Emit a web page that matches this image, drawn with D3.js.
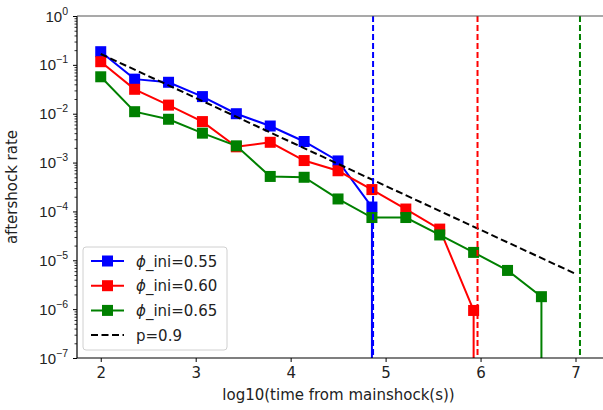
<!DOCTYPE html>
<html>
<head>
<meta charset="utf-8">
<script src="https://cdn.jsdelivr.net/npm/d3@7"></script>
<style>
  html, body { margin: 0; padding: 0; background: #fff; }
  svg { display: block; font-family: "DejaVu Sans", sans-serif; }
</style>
</head>
<body>
<svg id="chart" width="603" height="410"></svg>
<script>
// log10 of bin time (s) for each aftershock-rate sample
const logTime = [2.0, 2.357, 2.714, 3.071, 3.428, 3.785, 4.142, 4.499, 4.856, 5.213, 5.570, 5.927, 6.284, 6.641];

// Aftershock rates per run; a trailing 0 means the bin is empty
const rate055 = [0.186, 0.051, 0.044, 0.0224, 0.0100, 0.0056, 0.0027, 0.00108, 1.23e-4, 0];
const rate060 = [0.116, 0.0316, 0.015, 0.0069, 0.0021, 0.0026, 0.0011, 6.8e-4, 2.8e-4, 1.12e-4, 4.35e-5, 9.4e-7, 0];
const rate065 = [0.057, 0.011, 0.0077, 0.004, 0.0022, 5.2e-4, 5.0e-4, 1.8e-4, 7.5e-5, 7.5e-5, 3.3e-5, 1.45e-5, 6.2e-6, 1.8e-6, 0];

const seriesNames = ["\u03d5_ini=0.55", "\u03d5_ini=0.60", "\u03d5_ini=0.65"];
const seriesColors = ["#0000ff", "#ff0000", "#008000"];
const seriesRates = [rate055, rate060, rate065];

// End of each simulated catalogue (log10 s)
const catalogueEnd = [4.868, 5.968, 7.047];

// Omori reference line, p = 0.9
const omoriX = [2, 7];
const omoriY = [0.167, 5.28e-6];
const omoriName = "p=0.9";

const xTicks = [2, 3, 4, 5, 6, 7];
const yTickExp = [0, -1, -2, -3, -4, -5, -6, -7];

const svg = d3.select("#chart");
const pLeft = 77, pRight = 604, pTop = 16, pBottom = 358;

const x = d3.scaleLinear().domain([1.75, 7.3]).range([pLeft, pRight]);
const y = d3.scaleLog().domain([1e-7, 1]).range([pBottom, pTop]);

svg.append("defs").append("clipPath").attr("id", "plotClip")
  .append("rect").attr("x", pLeft).attr("y", pTop)
  .attr("width", pRight - pLeft).attr("height", pBottom - pTop);

const plot = svg.append("g").attr("clip-path", "url(#plotClip)");

// Series lines with square markers
seriesRates.forEach((rates, si) => {
  const pts = [];
  rates.forEach((r, i) => {
    if (r > 0) pts.push([x(logTime[i]), y(r)]);
    else if (pts.length) pts.push([pts[pts.length - 1][0], pBottom + 5]); // empty bin falls off the log axis
  });
  plot.append("path")
    .attr("d", d3.line()(pts))
    .attr("fill", "none")
    .attr("stroke", seriesColors[si])
    .attr("stroke-width", 2);
  plot.selectAll(null)
    .data(rates.map((r, i) => [logTime[i], r]).filter(d => d[1] > 0))
    .enter().append("rect")
    .attr("x", d => x(d[0]) - 5.5)
    .attr("y", d => y(d[1]) - 5.5)
    .attr("width", 11).attr("height", 11)
    .attr("fill", seriesColors[si]);
});

// Omori law reference
plot.append("path")
  .attr("d", d3.line()(omoriX.map((v, i) => [x(v), y(omoriY[i])])))
  .attr("fill", "none")
  .attr("stroke", "#000")
  .attr("stroke-width", 2)
  .attr("stroke-dasharray", "7,3.5");

// Catalogue end markers
catalogueEnd.forEach((v, i) => {
  plot.append("line")
    .attr("x1", x(v)).attr("x2", x(v))
    .attr("y1", pTop).attr("y2", pBottom)
    .attr("stroke", seriesColors[i])
    .attr("stroke-width", 2)
    .attr("stroke-dasharray", "6,3");
});

// Axes
const tickColor = "#222";
const xAxis = svg.append("g")
  .attr("transform", `translate(0,${pBottom})`)
  .call(d3.axisBottom(x).tickValues(xTicks).tickSize(4).tickPadding(5).tickFormat(d3.format("d")));
xAxis.select(".domain").remove();
xAxis.selectAll("text").attr("font-size", 15).attr("fill", tickColor).attr("font-family", "DejaVu Sans");
xAxis.selectAll("line").attr("stroke", "#000").attr("stroke-width", 1);

const majors = yTickExp.map(e => Math.pow(10, e));
const minors = [];
for (let e = -7; e < 0; e++) for (let k = 2; k <= 9; k++) minors.push(k * Math.pow(10, e));

const yMinor = svg.append("g").attr("transform", `translate(${pLeft},0)`)
  .call(d3.axisLeft(y).tickValues(minors).tickSize(2.5).tickFormat(""));
yMinor.select(".domain").remove();
yMinor.selectAll("line").attr("stroke", "#000").attr("stroke-width", 0.8);

const yAxis = svg.append("g").attr("transform", `translate(${pLeft},0)`)
  .call(d3.axisLeft(y).tickValues(majors).tickSize(4).tickPadding(6).tickFormat(""));
yAxis.select(".domain").remove();
yAxis.selectAll("line").attr("stroke", "#000").attr("stroke-width", 1);
yAxis.selectAll(".tick").each(function(d, i) {
  const t = d3.select(this).append("text")
    .attr("x", -9).attr("y", 5)
    .attr("text-anchor", "end")
    .attr("font-size", 15)
    .attr("fill", tickColor);
  t.append("tspan").text("10");
  t.append("tspan").attr("dy", -7).attr("font-size", 10.5)
    .text(yTickExp[i] === 0 ? "0" : "\u2212" + Math.abs(yTickExp[i]));
});

// Frame
svg.append("line").attr("x1", pLeft).attr("x2", pLeft).attr("y1", pTop).attr("y2", pBottom)
  .attr("stroke", "#000").attr("stroke-width", 1.2);
svg.append("line").attr("x1", pLeft).attr("x2", pRight).attr("y1", pBottom).attr("y2", pBottom)
  .attr("stroke", "#000").attr("stroke-width", 1.2);
svg.append("line").attr("x1", pLeft).attr("x2", pRight).attr("y1", pTop).attr("y2", pTop)
  .attr("stroke", "#555").attr("stroke-width", 1.2);

// Axis titles
svg.append("text")
  .attr("x", (pLeft + 600) / 2).attr("y", 400)
  .attr("text-anchor", "middle").attr("font-size", 15).attr("fill", tickColor)
  .text("log10(time from mainshock(s))");
svg.append("text")
  .attr("transform", `translate(17,${(pTop + pBottom) / 2}) rotate(-90)`)
  .attr("text-anchor", "middle").attr("font-size", 15).attr("fill", tickColor)
  .text("aftershock rate");

// Legend
const lg = svg.append("g").attr("transform", "translate(83,247)");
lg.append("rect").attr("width", 144).attr("height", 103).attr("rx", 3)
  .attr("fill", "#fff").attr("fill-opacity", 0.85)
  .attr("stroke", "#d0d0d0").attr("stroke-width", 1);
const legendItems = seriesNames.map((n, i) => ({ name: n, color: seriesColors[i], marker: true }))
  .concat([{ name: omoriName, color: "#000", marker: false }]);
legendItems.forEach((it, i) => {
  const gy = 14 + i * 24.7;
  const row = lg.append("g").attr("transform", `translate(0,${gy})`);
  row.append("line").attr("x1", 8).attr("x2", 41).attr("y1", 0).attr("y2", 0)
    .attr("stroke", it.color).attr("stroke-width", 2)
    .attr("stroke-dasharray", it.marker ? null : "7,3.5");
  if (it.marker) row.append("rect").attr("x", 19).attr("y", -5.5).attr("width", 11).attr("height", 11).attr("fill", it.color);
  const txt = row.append("text").attr("x", 53).attr("y", 5.5).attr("font-size", 15).attr("fill", tickColor);
  if (it.marker) {
    txt.append("tspan").attr("font-style", "italic").text(it.name.slice(0, 1));
    txt.append("tspan").text(it.name.slice(1));
  } else {
    txt.text(it.name);
  }
});
</script>
</body>
</html>
